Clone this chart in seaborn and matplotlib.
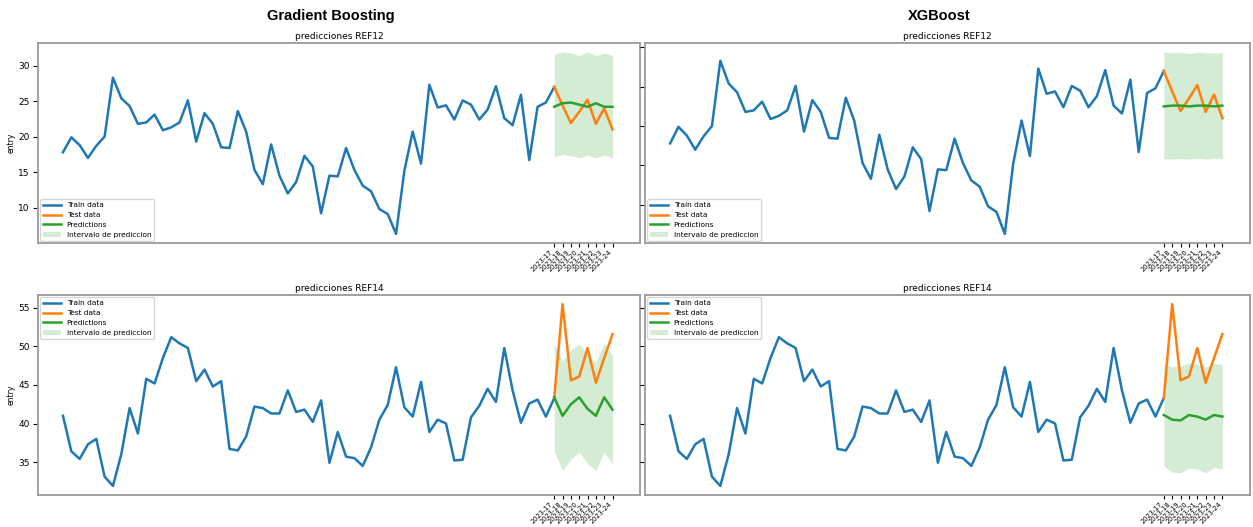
import matplotlib
matplotlib.use("Agg")
import matplotlib.pyplot as plt
import seaborn as sns

# --- series REF12 ---
train_ref12 = [17.8, 19.9, 18.8, 17.0, 18.7, 20.0, 28.3, 25.4, 24.3, 21.8,
               22.0, 23.1, 20.9, 21.3, 22.0, 25.1, 19.3, 23.3, 21.8, 18.5,
               18.4, 23.6, 20.7, 15.3, 13.3, 18.9, 14.5, 12.0, 13.6, 17.3,
               15.8, 9.2, 14.5, 14.4, 18.4, 15.3, 13.1, 12.3, 9.8, 9.1,
               6.3, 15.2, 20.7, 16.2, 27.3, 24.1, 24.4, 22.4, 25.1, 24.5,
               22.4, 23.8, 27.1, 22.6, 21.6, 25.9, 16.7, 24.2, 24.8, 27.0]
test_ref12 = [27.0, 24.4, 21.9, 23.5, 25.2, 21.8, 24.0, 21.0]

gb_pred_ref12 = [24.2, 24.7, 24.8, 24.5, 24.2, 24.7, 24.2, 24.2]
gb_upper_ref12 = [31.6, 31.9, 31.8, 31.4, 31.9, 31.4, 31.8, 31.4]
gb_lower_ref12 = [17.2, 17.5, 17.3, 17.0, 17.4, 17.0, 17.4, 17.0]

xgb_pred_ref12 = [22.5, 22.6, 22.6, 22.5, 22.6, 22.6, 22.5, 22.6]
xgb_upper_ref12 = [29.4, 29.3, 29.4, 29.2, 29.4, 29.3, 29.3, 29.3]
xgb_lower_ref12 = [15.9, 15.8, 15.9, 15.8, 15.9, 15.8, 15.9, 15.9]

# --- series REF14 ---
train_ref14 = [41.0, 36.4, 35.4, 37.3, 38.0, 33.1, 31.9, 36.0, 42.0, 38.7,
               45.8, 45.2, 48.5, 51.2, 50.4, 49.8, 45.5, 47.0, 44.8, 45.5,
               36.7, 36.5, 38.3, 42.2, 42.0, 41.3, 41.3, 44.3, 41.5, 41.8,
               40.2, 43.0, 34.9, 38.9, 35.7, 35.5, 34.5, 36.9, 40.5, 42.4,
               47.3, 42.1, 40.9, 45.4, 38.9, 40.5, 40.0, 35.2, 35.3, 40.8,
               42.3, 44.5, 42.8, 49.8, 44.3, 40.1, 42.6, 43.1, 40.9, 43.3]
test_ref14 = [43.3, 55.5, 45.6, 46.1, 49.8, 45.3, 48.5, 51.6]

gb_pred_ref14 = [43.4, 41.0, 42.5, 43.4, 41.9, 41.0, 43.4, 41.8]
gb_upper_ref14 = [50.3, 48.1, 49.6, 50.3, 48.9, 48.0, 50.4, 48.8]
gb_lower_ref14 = [36.4, 33.9, 35.4, 36.3, 34.8, 33.9, 36.3, 34.7]

xgb_pred_ref14 = [41.1, 40.5, 40.4, 41.1, 40.9, 40.5, 41.1, 40.9]
xgb_upper_ref14 = [47.7, 47.4, 47.5, 47.8, 47.7, 47.3, 47.8, 47.7]
xgb_lower_ref14 = [34.5, 33.7, 33.6, 34.2, 34.1, 33.6, 34.3, 34.1]

test_labels = ["2023-17", "2023-18", "2023-19", "2023-20",
               "2023-21", "2023-22", "2023-23", "2023-24"]

W, H = 1253, 527
fig = plt.figure(figsize=(W / 100, H / 100), dpi=100)


def box(x0, y0, x1, y1):
    return [x0 / W, 1 - y1 / H, (x1 - x0) / W, (y1 - y0) / H]


def panel(rect, train, test, pred, lower, upper, title, legend_loc, ylabel):
    ax = fig.add_axes(rect)
    n = len(train)
    x_train = list(range(n))
    x_test = list(range(n - 1, n - 1 + len(test)))
    sns.lineplot(x=x_train, y=train, ax=ax, color="tab:blue", lw=1.8, label="Train data")
    sns.lineplot(x=x_test, y=test, ax=ax, color="tab:orange", lw=1.8, label="Test data")
    sns.lineplot(x=x_test, y=pred, ax=ax, color="tab:green", lw=1.8, label="Predictions")
    ax.fill_between(x_test, lower, upper, color="tab:green", alpha=0.2,
                    lw=0, label="Intervalo de prediccion")
    ax.set_xlim(-3.0, n + len(test) + 1.3)
    ax.set_xticks(x_test)
    ax.set_xticklabels(test_labels, rotation=45, ha="right", fontsize=4.8)
    ax.tick_params(axis="x", length=3, pad=1.5)
    ax.tick_params(axis="y", labelsize=6.5, length=3.5, pad=2.5)
    ax.set_title(title, fontsize=6.5, pad=3)
    if ylabel:
        ax.set_ylabel("entry", fontsize=5.5, labelpad=1.5)
    else:
        ax.tick_params(axis="y", labelleft=False)
    for s in ax.spines.values():
        s.set_color("#9a9a9a")
        s.set_linewidth(1.3)
    ax.legend(loc=legend_loc, fontsize=5.3, handlelength=2.4,
              borderaxespad=0.3)
    return ax


panel(box(38, 43, 640, 243), train_ref12, test_ref12, gb_pred_ref12,
      gb_lower_ref12, gb_upper_ref12, "predicciones REF12", "lower left", True)
panel(box(645, 43, 1250, 243), train_ref12, test_ref12, xgb_pred_ref12,
      xgb_lower_ref12, xgb_upper_ref12, "predicciones REF12", "lower left", False)
panel(box(38, 295, 640, 495), train_ref14, test_ref14, gb_pred_ref14,
      gb_lower_ref14, gb_upper_ref14, "predicciones REF14", "upper left", True)
panel(box(645, 295, 1250, 495), train_ref14, test_ref14, xgb_pred_ref14,
      xgb_lower_ref14, xgb_upper_ref14, "predicciones REF14", "upper left", False)

fig.text(331 / W, 1 - 16 / H, "Gradient Boosting", ha="center", va="center",
         fontsize=10.5, fontweight="bold", family="Liberation Sans")
fig.text(939 / W, 1 - 16 / H, "XGBoost", ha="center", va="center",
         fontsize=10.5, fontweight="bold", family="Liberation Sans")

fig.savefig("out.png", dpi=100)
